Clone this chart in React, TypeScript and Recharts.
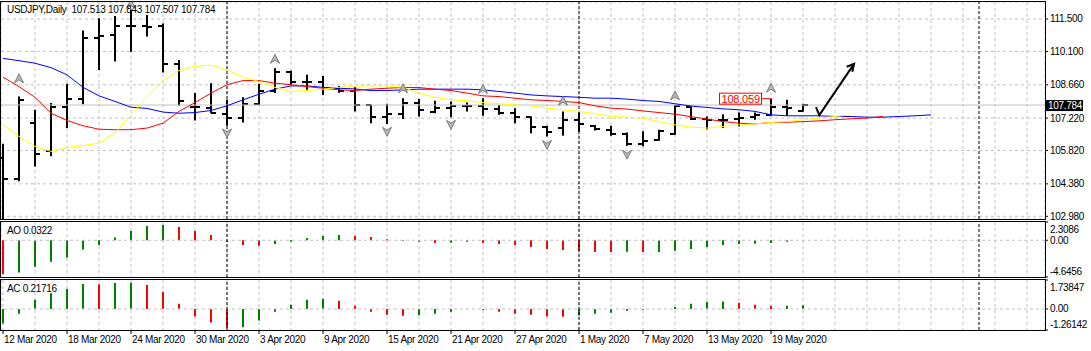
import React from "react"
import { Bar, CartesianGrid, Cell, ComposedChart, Line, ReferenceLine, Scatter, XAxis, YAxis } from "recharts"

// bar dates (daily, 12 Mar – 21 May 2020)
const dates = [
  "12 Mar 2020", "13 Mar 2020", "16 Mar 2020", "17 Mar 2020", "18 Mar 2020", "19 Mar 2020", "20 Mar 2020",
  "23 Mar 2020", "24 Mar 2020", "25 Mar 2020", "26 Mar 2020", "27 Mar 2020", "30 Mar 2020", "31 Mar 2020",
  "1 Apr 2020", "2 Apr 2020", "3 Apr 2020", "6 Apr 2020", "7 Apr 2020", "8 Apr 2020", "9 Apr 2020",
  "10 Apr 2020", "13 Apr 2020", "14 Apr 2020", "15 Apr 2020", "16 Apr 2020", "17 Apr 2020", "20 Apr 2020",
  "21 Apr 2020", "22 Apr 2020", "23 Apr 2020", "24 Apr 2020", "27 Apr 2020", "28 Apr 2020", "29 Apr 2020",
  "30 Apr 2020", "1 May 2020", "4 May 2020", "5 May 2020", "6 May 2020", "7 May 2020", "8 May 2020",
  "11 May 2020", "12 May 2020", "13 May 2020", "14 May 2020", "15 May 2020", "18 May 2020", "19 May 2020",
  "20 May 2020", "21 May 2020",
]

const opens = [
  105.5, 104.6, 107.0, 105.78, 107.69, 108.04, 110.67, 110.8, 111.2, 111.2,
  111.2, 109.55, 107.68, 107.66, 107.4, 107.22, 107.85, 108.37, 109.23, 108.8,
  108.8, 108.5, 108.41, 107.79, 107.25, 107.41, 107.89, 107.5, 107.65, 107.75,
  107.75, 107.61, 107.43, 107.25, 106.83, 106.8, 107.12, 106.9, 106.7, 106.55,
  106.11, 106.26, 106.55, 107.7, 107.2, 107.15, 107.18, 107.25, 107.36, 107.69,
  107.513,
]
const highs = [
  106.11, 108.15, 107.58, 107.87, 108.7, 111.0, 111.53, 111.63, 111.89, 111.67,
  111.31, 109.73, 108.3, 108.73, 108.01, 108.12, 108.7, 109.37, 109.27, 109.09,
  109.04, 108.61, 108.55, 107.8, 107.84, 108.08, 108.04, 107.97, 107.94, 107.89,
  108.08, 107.79, 107.65, 107.29, 106.89, 107.51, 107.46, 106.92, 106.89, 106.6,
  106.65, 106.72, 107.79, 107.72, 107.29, 107.39, 107.46, 107.46, 108.059, 108.01,
  107.843,
]
const lows = [
  102.5, 104.49, 105.13, 105.57, 106.79, 107.82, 109.3, 109.66, 110.09, 110.74,
  109.19, 107.75, 107.12, 107.43, 106.89, 107.03, 107.79, 108.3, 108.66, 108.44,
  108.22, 108.32, 107.51, 107.0, 106.97, 107.18, 107.29, 107.43, 107.26, 107.51,
  107.32, 107.36, 107.0, 106.57, 106.43, 106.46, 106.63, 106.68, 106.46, 106.03,
  106.0, 106.24, 106.5, 107.14, 106.74, 106.79, 106.86, 107.15, 107.32, 107.32,
  107.507,
]
const closes = [
  104.6, 108.01, 105.68, 107.69, 108.04, 110.7, 110.78, 111.2, 111.2, 111.15,
  109.55, 107.98, 107.68, 107.46, 107.22, 107.84, 108.37, 109.23, 108.8, 108.8,
  108.51, 108.41, 107.79, 107.25, 107.41, 107.89, 107.55, 107.65, 107.75, 107.75,
  107.61, 107.43, 107.25, 106.83, 106.64, 107.12, 106.96, 106.74, 106.54, 106.11,
  106.21, 106.65, 107.75, 107.18, 107.12, 107.15, 107.22, 107.36, 107.69, 107.66,
  107.784,
]

// Alligator lines (shifted forward past the last bar)
const jaw = [
  109.8, 109.7, 109.59, 109.4, 109.09, 108.55, 108.18, 107.94, 107.69, 107.64,
  107.48, 107.43, 107.46, 107.55, 107.75, 108.01, 108.25, 108.47, 108.61, 108.61,
  108.55, 108.51, 108.48, 108.41, 108.41, 108.44, 108.47, 108.47, 108.47, 108.47,
  108.44, 108.37, 108.3, 108.22, 108.18, 108.15, 108.12, 108.08, 108.08, 108.04,
  107.98, 107.94, 107.84, 107.74, 107.68, 107.62, 107.58, 107.51, 107.36, 107.32,
  107.32, 107.32, 107.29, 107.29, 107.26, 107.26, 107.29, 107.32, 107.36,
]
const teeth = [
  108.99, 108.58, 108.12, 107.43, 107.12, 106.89, 106.74, 106.72, 106.72, 106.79,
  107.0, 107.51, 107.89, 108.3, 108.66, 108.84, 108.84, 108.73, 108.66, 108.58,
  108.51, 108.44, 108.41, 108.47, 108.51, 108.54, 108.54, 108.47, 108.41, 108.3,
  108.18, 108.15, 108.08, 108.01, 107.98, 107.94, 107.89, 107.75, 107.65, 107.61,
  107.53, 107.46, 107.39, 107.28, 107.18, 107.07, 107.0, 106.97, 107.03, 107.04,
  107.07, 107.1, 107.15, 107.19, 107.22, 107.29,
]
const lips = [
  106.93, 106.43, 106.0, 105.78, 105.95, 106.03, 106.14, 106.57, 107.36, 108.15,
  108.83, 109.27, 109.45, 109.51, 109.3, 108.99, 108.8, 108.55, 108.37, 108.41,
  108.47, 108.55, 108.6, 108.61, 108.61, 108.55, 108.3, 108.12, 108.01, 107.97,
  107.89, 107.84, 107.79, 107.75, 107.65, 107.58, 107.51, 107.41, 107.29, 107.26,
  107.22, 107.07, 106.93, 106.83, 106.79, 106.86, 106.93, 106.97, 107.03, 107.07,
  107.15, 107.22, 107.29, 107.36,
]

const ao = [
  -4.3, -4.07, -3.35, -2.72, -2.18, -1.17, -0.59, 0.34, 1.17, 1.8,
  1.93, 1.68, 1.17, 0.67, -0.2, -0.59, -0.71, -0.46, -0.2, 0.29,
  0.54, 0.67, 0.54, 0.42, 0.12, -0.1, -0.2, -0.34, -0.32, -0.2,
  -0.34, -0.46, -0.59, -0.84, -1.09, -1.22, -1.34, -1.47, -1.49, -1.46,
  -1.48, -1.47, -1.34, -1.09, -0.84, -0.59, -0.46, -0.43, -0.34, -0.2,
  0.0322,
]
const aoPrior = -4.1
const ac = [
  -0.87, -0.28, 0.55, 0.95, 1.2, 1.5, 1.48, 1.56, 1.58, 1.44,
  1.03, 0.32, -0.45, -0.81, -1.12, -1.1, -0.69, -0.16, 0.26, 0.55,
  0.61, 0.49, 0.2, -0.16, -0.34, -0.4, -0.38, -0.28, -0.16, 0.02,
  -0.04, -0.16, -0.28, -0.34, -0.45, -0.47, -0.39, -0.28, -0.22, -0.1,
  -0.04, -0.02, 0.12, 0.32, 0.43, 0.45, 0.37, 0.26, 0.19, 0.2,
  0.21716,
]
const acPrior = -1.0

// fractal arrows: bar index and price of the arrow
const fractalUpIdx = [1, 8, 17, 25, 30, 35, 42, 48]
const fractalUpPrice = [108.94, 112.15, 109.78, 108.51, 108.48, 107.97, 108.2, 108.53]
const fractalDownIdx = [14, 24, 28, 34, 39]
const fractalDownPrice = [106.56, 106.63, 106.93, 106.06, 105.64]

// hand-drawn arrow object
const arrowPath = [
  { i: 50.81, v: 107.69 },
  { i: 51.02, v: 107.35 },
  { i: 53.19, v: 109.56 },
]
const arrowHead = [
  { i: 52.73, v: 109.44 },
  { i: 53.19, v: 109.56 },
  { i: 53.08, v: 109.22 },
]

const priceTicks = [111.5, 110.1, 108.66, 107.22, 105.82, 104.38, 102.98]
const aoTicks = [2.3086, 0, -4.6456]
const acTicks = [1.73847, 0, -1.26142]
const separators = [14, 36, 61]
const lastPrice = 107.784
const highMark = [{ i: 48, v: 108.059 }]

const W = 1091
const X_DOMAIN: [number, number] = [-0.125, 65.125]
const gridIdx = Array.from({ length: 33 }, (_, k) => k * 2)
const FONT = "'Liberation Sans', Arial, sans-serif"
const GREEN = "#008000"
const RED = "#ff0000"
const GRID = "#c0c0c0"

const mainRows = jaw.map((j, i) => ({
  i,
  range: i < highs.length ? [lows[i], highs[i]] : undefined,
  open: opens[i],
  high: highs[i],
  low: lows[i],
  close: closes[i],
  jaw: j,
  teeth: teeth[i],
  lips: lips[i],
}))
const aoRows = ao.map((v, i) => ({ i, ao: v, up: v > (i ? ao[i - 1] : aoPrior) }))
const acRows = ac.map((v, i) => ({ i, ac: v, up: v > (i ? ac[i - 1] : acPrior) }))
const upRows = fractalUpIdx.map((i, k) => ({ i, v: fractalUpPrice[k] }))
const downRows = fractalDownIdx.map((i, k) => ({ i, v: fractalDownPrice[k] }))

function OhlcBar(props: any) {
  const { x, y, width, height } = props
  const d = props.payload ?? props
  if (!d || d.high == null || !isFinite(y)) return null
  const top = Math.min(y, y + height)
  const h = Math.abs(height)
  const at = (v: number) => Math.round(top + ((d.high - v) / (d.high - d.low)) * h)
  const cx = Math.round(x + width / 2)
  return (
    <g stroke="#000" strokeWidth={2}>
      <line x1={cx} x2={cx} y1={top} y2={top + h} />
      <line x1={cx - 5} x2={cx} y1={at(d.open)} y2={at(d.open)} />
      <line x1={cx} x2={cx + 5} y1={at(d.close)} y2={at(d.close)} />
    </g>
  )
}

function FractalUp(p: any) {
  const { cx, cy } = p
  return <path d={`M${cx},${cy - 4.5}L${cx + 4.5},${cy + 4.5}L${cx},${cy + 1.5}L${cx - 4.5},${cy + 4.5}Z`} fill="#b8b8b8" stroke="#7c7c7c" />
}
function FractalDown(p: any) {
  const { cx, cy } = p
  return <path d={`M${cx},${cy + 4.5}L${cx + 4.5},${cy - 4.5}L${cx},${cy - 1.5}L${cx - 4.5},${cy - 4.5}Z`} fill="#b8b8b8" stroke="#7c7c7c" />
}

function HighTag(p: any) {
  const { cx, cy } = p
  return (
    <g>
      <line x1={cx - 10} x2={cx} y1={cy} y2={cy} stroke={RED} />
      <rect x={cx - 51.5} y={cy - 5.5} width={42} height={11} fill="#fff" stroke={RED} />
      <text x={cx - 49.5} y={cy + 4} fill={RED} fontSize={11} fontFamily={FONT} letterSpacing={-0.2}>
        {p.payload.v.toFixed(3)}
      </text>
    </g>
  )
}

function PriceTag({ viewBox }: any) {
  const x = viewBox.x + viewBox.width
  const y = viewBox.y
  return (
    <g>
      <rect x={x + 1} y={y - 5} width={37} height={11} fill="#000" />
      <text x={x + 3} y={y + 4} fill="#fff" fontSize={10} fontFamily={FONT} letterSpacing={-0.3}>
        {lastPrice.toFixed(3)}
      </text>
    </g>
  )
}

function makeSideTick(fmt: (v: number) => string, lo: number, hi: number) {
  return function SideTick(props: any) {
    const { x, y, payload } = props
    const v = payload.value
    const dy = v === hi ? 7 : v === lo ? -6 : 0
    return (
      <g>
        <line x1={x} x2={x + 3} y1={y} y2={y} stroke="#000" />
        <text x={x + 5} y={y + dy + 3.5} fontSize={10} fontFamily={FONT} letterSpacing={-0.3} fill="#000">
          {fmt(v)}
        </text>
      </g>
    )
  }
}

const PriceTick = makeSideTick((v) => v.toFixed(3), -Infinity, Infinity)
const AoTick = makeSideTick((v) => (v === 0 ? "0.00" : String(v)), aoTicks[2], aoTicks[0])
const AcTick = makeSideTick((v) => (v === 0 ? "0.00" : String(v)), acTicks[2], acTicks[0])

function DateTick(props: any) {
  const { x, y, payload } = props
  const i = payload.value
  if (i % 4 !== 0 || i >= dates.length) return <g />
  return (
    <g>
      <line x1={x} x2={x} y1={y} y2={y + 4} stroke="#000" />
      <text x={x + 1} y={y + 13} fontSize={10} fontFamily={FONT} letterSpacing={-0.3} fill="#000">
        {dates[i]}
      </text>
    </g>
  )
}

const frame = (top: number, height: number): React.CSSProperties => ({
  position: "absolute",
  left: 0,
  top,
  width: 1046,
  height,
  border: "1px solid #000",
  boxSizing: "border-box",
  pointerEvents: "none",
})

const label = (top: number): React.CSSProperties => ({
  position: "absolute",
  left: 7,
  top,
  fontFamily: FONT,
  fontSize: 10,
  letterSpacing: -0.3,
  lineHeight: "12px",
  whiteSpace: "pre",
  color: "#000",
})

export default function App() {
  return (
    <div style={{ position: "relative", width: W, height: 351, background: "#fff", overflow: "hidden" }}>
      <style>{`body{margin:0}`}</style>

      <div style={{ position: "absolute", left: 0, top: 0 }}>
        <ComposedChart width={W} height={224} data={mainRows} margin={{ top: 2, right: 0, bottom: 5, left: 1 }}>
          <CartesianGrid stroke={GRID} strokeDasharray="3 3" />
          <XAxis dataKey="i" type="number" domain={X_DOMAIN} ticks={gridIdx} allowDataOverflow hide />
          <YAxis
            orientation="right"
            width={46}
            domain={[102.863, 112.234]}
            ticks={priceTicks}
            interval={0}
            allowDataOverflow
            axisLine={false}
            tickLine={false}
            tickSize={0}
            tickMargin={0}
            tick={<PriceTick />}
          />
          {separators.map((s) => (
            <ReferenceLine key={s} x={s} stroke="#000" strokeDasharray="3 2" />
          ))}
          <ReferenceLine y={lastPrice} stroke={GRID} label={<PriceTag />} />
          <Line dataKey="jaw" type="linear" stroke="#0000ff" dot={false} strokeWidth={1} isAnimationActive={false} />
          <Line dataKey="teeth" type="linear" stroke="#ff0000" dot={false} strokeWidth={1} isAnimationActive={false} />
          <Line dataKey="lips" type="linear" stroke="#ffff00" dot={false} strokeWidth={1} isAnimationActive={false} />
          <Bar dataKey="range" barSize={10} shape={<OhlcBar />} isAnimationActive={false} />
          <Scatter data={upRows} dataKey="v" shape={<FractalUp />} isAnimationActive={false} />
          <Scatter data={downRows} dataKey="v" shape={<FractalDown />} isAnimationActive={false} />
          <Scatter data={highMark} dataKey="v" shape={<HighTag />} isAnimationActive={false} />
          <Line data={arrowPath} dataKey="v" stroke="#000" strokeWidth={2} dot={false} isAnimationActive={false} />
          <Line data={arrowHead} dataKey="v" stroke="#000" strokeWidth={2} dot={false} isAnimationActive={false} />
        </ComposedChart>
      </div>

      <div style={{ position: "absolute", left: 0, top: 220 }}>
        <ComposedChart width={W} height={58} data={aoRows} margin={{ top: 2, right: 0, bottom: 1, left: 1 }}>
          <CartesianGrid stroke={GRID} strokeDasharray="3 3" horizontal={false} />
          <XAxis dataKey="i" type="number" domain={X_DOMAIN} ticks={gridIdx} allowDataOverflow hide />
          <YAxis
            orientation="right"
            width={46}
            domain={[aoTicks[2], aoTicks[0]]}
            ticks={aoTicks}
            interval={0}
            allowDataOverflow
            axisLine={false}
            tickLine={false}
            tickSize={0}
            tickMargin={0}
            tick={<AoTick />}
          />
          <ReferenceLine y={0} stroke={GRID} strokeDasharray="3 3" />
          {separators.map((s) => (
            <ReferenceLine key={s} x={s} stroke="#000" strokeDasharray="3 2" />
          ))}
          <Bar dataKey="ao" barSize={2} isAnimationActive={false}>
            {aoRows.map((r) => (
              <Cell key={r.i} fill={r.up ? GREEN : RED} />
            ))}
          </Bar>
        </ComposedChart>
      </div>

      <div style={{ position: "absolute", left: 0, top: 278 }}>
        <ComposedChart width={W} height={73} data={acRows} margin={{ top: 2, right: 0, bottom: 0, left: 1 }}>
          <CartesianGrid stroke={GRID} strokeDasharray="3 3" horizontal={false} />
          <XAxis
            dataKey="i"
            type="number"
            domain={X_DOMAIN}
            ticks={gridIdx}
            interval={0}
            allowDataOverflow
            height={21}
            axisLine={false}
            tickLine={false}
            tickSize={0}
            tickMargin={0}
            tick={<DateTick />}
          />
          <YAxis
            orientation="right"
            width={46}
            domain={[acTicks[2], acTicks[0]]}
            ticks={acTicks}
            interval={0}
            allowDataOverflow
            axisLine={false}
            tickLine={false}
            tickSize={0}
            tickMargin={0}
            tick={<AcTick />}
          />
          <ReferenceLine y={0} stroke={GRID} strokeDasharray="3 3" />
          {separators.map((s) => (
            <ReferenceLine key={s} x={s} stroke="#000" strokeDasharray="3 2" />
          ))}
          <Bar dataKey="ac" barSize={2} isAnimationActive={false}>
            {acRows.map((r) => (
              <Cell key={r.i} fill={r.up ? GREEN : RED} />
            ))}
          </Bar>
        </ComposedChart>
      </div>

      <div style={frame(1, 219)} />
      <div style={frame(221, 57)} />
      <div style={frame(279, 52)} />

      <div style={label(4)}>{"USDJPY,Daily  107.513 107.843 107.507 107.784"}</div>
      <div style={label(225)}>{`AO ${ao[ao.length - 1]}`}</div>
      <div style={label(283)}>{`AC ${ac[ac.length - 1]}`}</div>
    </div>
  )
}
